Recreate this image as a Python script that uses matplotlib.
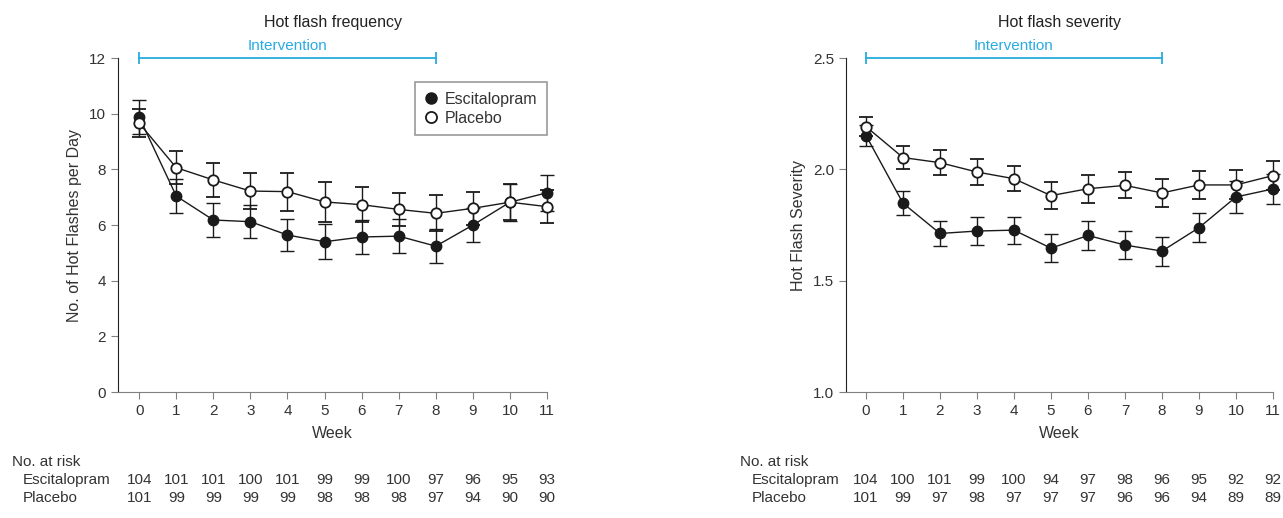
import numpy as np
import matplotlib
matplotlib.use("Agg")
import matplotlib.pyplot as plt
from matplotlib.lines import Line2D

plt.rcParams['font.family'] = ['Liberation Sans', 'DejaVu Sans']

weeks = np.arange(12)

# Hot flash frequency
freq_esc = [9.88, 7.04, 6.18, 6.12, 5.64, 5.40, 5.57, 5.60, 5.24, 6.00, 6.82, 7.16]
freq_esc_se = [0.62, 0.60, 0.60, 0.60, 0.57, 0.62, 0.60, 0.60, 0.60, 0.61, 0.66, 0.64]
freq_pla = [9.66, 8.06, 7.62, 7.22, 7.20, 6.83, 6.73, 6.56, 6.42, 6.60, 6.82, 6.66]
freq_pla_se = [0.50, 0.59, 0.61, 0.65, 0.68, 0.73, 0.62, 0.60, 0.65, 0.60, 0.64, 0.60]

# Hot flash severity
sev_esc = [2.152, 1.848, 1.712, 1.723, 1.727, 1.646, 1.703, 1.660, 1.633, 1.738, 1.876, 1.912]
sev_esc_se = [0.045, 0.055, 0.058, 0.062, 0.061, 0.062, 0.064, 0.064, 0.065, 0.064, 0.070, 0.068]
sev_pla = [2.192, 2.053, 2.030, 1.988, 1.958, 1.882, 1.913, 1.928, 1.894, 1.930, 1.930, 1.972]
sev_pla_se = [0.044, 0.050, 0.056, 0.059, 0.057, 0.062, 0.062, 0.058, 0.061, 0.064, 0.065, 0.064]

# numbers at risk
risk_freq_esc = [104, 101, 101, 100, 101, 99, 99, 100, 97, 96, 95, 93]
risk_freq_pla = [101, 99, 99, 99, 99, 98, 98, 98, 97, 94, 90, 90]
risk_sev_esc = [104, 100, 101, 99, 100, 94, 97, 98, 96, 95, 92, 92]
risk_sev_pla = [101, 99, 97, 98, 97, 97, 97, 96, 96, 94, 89, 89]

text_col = '#333333'
axis_col = '#808080'
cyan = '#29abe2'
dark = '#1a1a1a'

fig = plt.figure(figsize=(12.83, 5.18), dpi=100)
ax1 = fig.add_axes([0.092, 0.2432, 0.3344, 0.6448])
ax2 = fig.add_axes([0.6594, 0.2432, 0.3328, 0.6448])


def draw_panel(ax, esc, esc_se, pla, pla_se, ylim, yticks, yfmt, ylabel, title,
               risk_esc, risk_pla, xmin):
    ax.errorbar(weeks, esc, yerr=esc_se, color=dark, lw=1, marker='o', ms=7.5,
                mfc=dark, mec=dark, capsize=5, elinewidth=1, capthick=1,
                clip_on=False, zorder=3)
    ax.errorbar(weeks, pla, yerr=pla_se, color=dark, lw=1, marker='o', ms=7.5,
                mfc='white', mec=dark, mew=1.3, capsize=5, elinewidth=1,
                capthick=1, clip_on=False, zorder=4)
    ax.set_xlim(xmin, 11)
    ax.set_ylim(*ylim)
    ax.set_xticks(weeks)
    ax.set_yticks(yticks)
    ax.set_yticklabels([yfmt.format(v) for v in yticks])
    for s in ['top', 'right']:
        ax.spines[s].set_visible(False)
    ax.spines['left'].set_color('#222222')
    ax.spines['bottom'].set_color(axis_col)
    ax.tick_params(colors=axis_col, labelcolor=text_col, labelsize=11, length=5)
    ax.set_xlabel('Week', fontsize=11.5, color=text_col, labelpad=6)
    ax.set_ylabel(ylabel, fontsize=11.5, color=text_col, labelpad=5)
    ax.set_title(title, fontsize=11.5, color='#222222', pad=22)

    # intervention bar across weeks 0-8 at top of axis
    ytop = ylim[1]
    span = ylim[1] - ylim[0]
    ax.plot([0, 8], [ytop, ytop], color=cyan, lw=1.3, clip_on=False)
    ax.vlines([0, 8], ytop - span * 0.018, ytop + span * 0.018, color=cyan,
              lw=1.3, clip_on=False)
    ax.annotate('Intervention', xy=(4, ytop), xytext=(0, 9),
                textcoords='offset points', color=cyan, fontsize=11,
                ha='center', va='center', annotation_clip=False)

    # number at risk table
    trans = ax.get_xaxis_transform()
    ax.text(xmin - 2.86, -0.21, 'No. at risk', transform=trans, fontsize=11,
            color=text_col, ha='left', va='center')
    ax.text(xmin - 2.56, -0.263, 'Escitalopram', transform=trans, fontsize=11,
            color=text_col, ha='left', va='center')
    ax.text(xmin - 2.56, -0.317, 'Placebo', transform=trans, fontsize=11,
            color=text_col, ha='left', va='center')
    for w, a, b in zip(weeks, risk_esc, risk_pla):
        ax.text(w, -0.263, str(a), transform=trans, fontsize=11, color=text_col,
                ha='center', va='center')
        ax.text(w, -0.317, str(b), transform=trans, fontsize=11, color=text_col,
                ha='center', va='center')


draw_panel(ax1, freq_esc, freq_esc_se, freq_pla, freq_pla_se, (0, 12),
           [0, 2, 4, 6, 8, 10, 12], '{:g}', 'No. of Hot Flashes per Day',
           'Hot flash frequency', risk_freq_esc, risk_freq_pla, -0.57)
draw_panel(ax2, sev_esc, sev_esc_se, sev_pla, sev_pla_se, (1.0, 2.5),
           [1.0, 1.5, 2.0, 2.5], '{:.1f}', 'Hot Flash Severity',
           'Hot flash severity', risk_sev_esc, risk_sev_pla, -0.54)

handles = [
    Line2D([], [], ls='none', marker='o', ms=8, mfc=dark, mec=dark),
    Line2D([], [], ls='none', marker='o', ms=8, mfc='white', mec=dark, mew=1.3),
]
leg = ax1.legend(handles, ['Escitalopram', 'Placebo'], loc='upper right',
                 bbox_to_anchor=(1.0, 0.928), borderaxespad=0, fontsize=11.5,
                 frameon=True, fancybox=False, handlelength=0.8,
                 handletextpad=0.5, borderpad=0.6, labelspacing=0.25)
leg.get_frame().set_edgecolor(axis_col)
leg.get_frame().set_linewidth(1.2)
for t in leg.get_texts():
    t.set_color(text_col)

fig.savefig('out.png', dpi=100)
